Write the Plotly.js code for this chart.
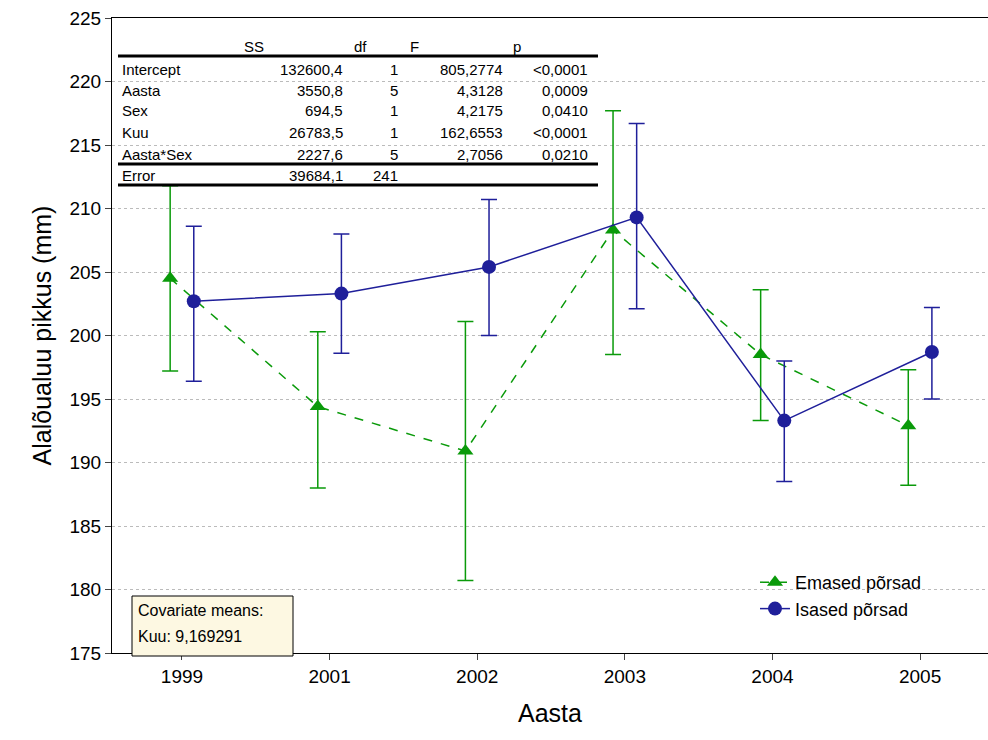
<!DOCTYPE html>
<html><head><meta charset="utf-8">
<script src="https://cdn.plot.ly/plotly-3.0.1.min.js"></script>
<style>body{margin:0}#c{width:988px;height:740px}</style></head>
<body><div id="c"></div>
<script>
var years = ['1999','2001','2002','2003','2004','2005'];
var femMean = [204.5,194.4,190.9,208.3,198.5,192.9];
var femHi   = [211.8,200.3,201.1,217.7,203.6,197.3];
var femLo   = [197.2,188.0,180.7,198.5,193.3,188.2];
var maleMean= [202.7,203.3,205.4,209.3,193.3,198.7];
var maleHi  = [208.6,208.0,210.7,216.7,198.0,202.2];
var maleLo  = [196.4,198.6,200.0,202.1,188.5,195.0];
var tableHead = ['SS','df','F','p'];
var tableRows = [
 ['Intercept','132600,4','1','805,2774','<0,0001'],
 ['Aasta','3550,8','5','4,3128','0,0009'],
 ['Sex','694,5','1','4,2175','0,0410'],
 ['Kuu','26783,5','1','162,6553','<0,0001'],
 ['Aasta*Sex','2227,6','5','2,7056','0,0210'],
 ['Error','39684,1','241','','']
];
var covText = ['Covariate means:','Kuu: 9,169291'];

var L=112,T=18,W=876,H=635;
function px(x){return (x-L)/W;} function py(y){return (T+H-y)/H;}
var idx = years.map(function(_,i){return i;});
function mk(name,off,m,hi,lo,color,sym,dash){
  return {x: idx.map(function(i){return i+off;}), y:m, name:name, mode:'lines+markers',
    line:{color:color,width:1.5,dash:dash}, marker:{symbol:sym,size:14,color:color},
    error_y:{type:'data',symmetric:false,array:m.map(function(v,i){return hi[i]-v;}),
      arrayminus:m.map(function(v,i){return v-lo[i];}),color:color,thickness:1.5,width:8}};
}
var data=[mk('Emased põrsad',-0.08,femMean,femHi,femLo,'#0a9a0a','triangle-up','dash'),
          mk('Isased põrsad',0.08,maleMean,maleHi,maleLo,'#1f1f9a','circle','solid')];
var ann=[], f={family:'Liberation Sans, Arial',size:15,color:'#000'};
var hx=[254,360,414,517];
tableHead.forEach(function(t,i){ann.push({text:t,x:px(hx[i]),y:py(46),xref:'paper',yref:'paper',showarrow:false,xanchor:'center',yanchor:'middle',font:f});});
var rx=[342,397,502,587], ry=[69,90,111,132,154,175];
tableRows.forEach(function(r,j){
  ann.push({text:r[0],x:px(120),y:py(ry[j]),xref:'paper',yref:'paper',showarrow:false,xanchor:'left',yanchor:'middle',font:f});
  for(var k=1;k<5;k++) if(r[k]) ann.push({text:r[k],x:px(rx[k-1]+3),y:py(ry[j]),xref:'paper',yref:'paper',showarrow:false,xanchor:'right',yanchor:'middle',font:f});
});
covText.forEach(function(t,i){ann.push({text:t,x:px(136),y:py(610+i*26),xref:'paper',yref:'paper',showarrow:false,xanchor:'left',yanchor:'middle',font:{family:'Liberation Sans, Arial',size:16,color:'#000'}});});
function hl(y,w){return {type:'line',xref:'paper',yref:'paper',x0:px(118),x1:px(598),y0:py(y),y1:py(y),line:{color:'#000',width:w}};}
var shapes=[hl(56,3),hl(164,3),hl(185,3),
 {type:'rect',xref:'paper',yref:'paper',x0:px(132),x1:px(293),y0:py(656),y1:py(596),fillcolor:'#fdf8e2',line:{color:'#000',width:1}}];
var layout={width:988,height:740,margin:{l:L,r:0,t:T,b:740-T-H},paper_bgcolor:'#fff',plot_bgcolor:'#fff',
 font:{family:'Liberation Sans, Arial',color:'#000'},
 xaxis:{range:[-0.474,5.46],tickvals:idx,ticktext:years,ticks:'outside',ticklen:6,showgrid:false,zeroline:false,
   showline:true,linecolor:'#000',mirror:true,tickfont:{size:19},title:{text:'Aasta',font:{size:25},standoff:18}},
 yaxis:{range:[175,225],dtick:5,ticks:'outside',ticklen:6,showgrid:true,gridcolor:'#bbb',griddash:'dot',zeroline:false,
   showline:true,linecolor:'#000',mirror:true,tickfont:{size:19},title:{text:'Alalõualuu pikkus (mm)',font:{size:25},standoff:10}},
 legend:{x:px(755),y:py(564),xanchor:'left',yanchor:'top',bgcolor:'rgba(0,0,0,0)',font:{size:18}},
 annotations:ann,shapes:shapes};
Plotly.newPlot('c',data,layout,{displayModeBar:false});
</script></body></html>
